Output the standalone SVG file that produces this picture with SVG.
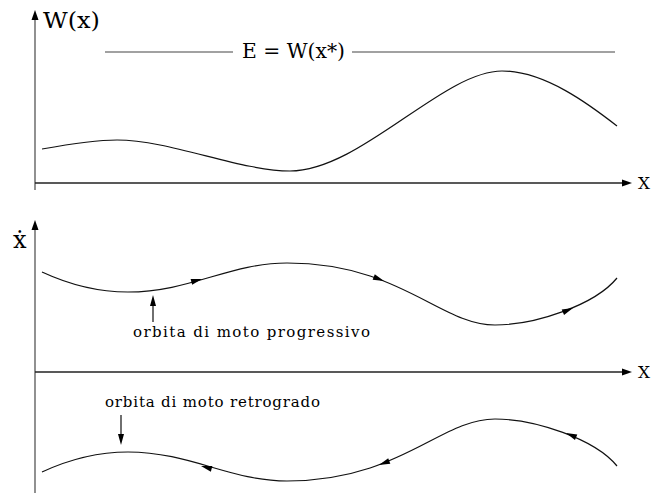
<svg xmlns="http://www.w3.org/2000/svg" width="652" height="493" viewBox="0 0 652 493">
<style>
.ax{stroke:#222;stroke-width:1.3;fill:none}
.vx{stroke:#555;stroke-width:1.3;fill:none}
.cv{stroke:#111;stroke-width:1.2;fill:none}
.el{stroke:#444;stroke-width:1.2;fill:none}
text{font-family:"DejaVu Serif","Liberation Serif",serif;fill:#000}
.s{font-size:15px}
</style>
<defs>
<path id="ah" d="M0,0 L-10,-3.5 L-10,3.5 Z" fill="#000"/>
<path id="sh" d="M0,0 L-11,-3 L-11,3 Z" fill="#000"/>
</defs>
<g id="axes">
<line class="vx" x1="35" y1="14" x2="35" y2="190"/>
<use href="#ah" transform="translate(35,10) rotate(-90)"/>
<line class="ax" x1="35" y1="183" x2="626" y2="183"/>
<use href="#ah" transform="translate(632,183)"/>
<line class="vx" x1="35" y1="224" x2="35" y2="493"/>
<use href="#ah" transform="translate(35,220) rotate(-90)"/>
<line class="ax" x1="35" y1="372" x2="626" y2="372"/>
<use href="#ah" transform="translate(632,372)"/>
</g>
<g id="labels">
<text x="43" y="28" font-size="22" textLength="57" lengthAdjust="spacingAndGlyphs">W(x)</text>
<text x="242" y="58" font-size="21" textLength="103" lengthAdjust="spacingAndGlyphs">E = W(x*)</text>
<text x="638" y="189" font-size="16" textLength="12" lengthAdjust="spacingAndGlyphs">X</text>
<text x="638" y="378" font-size="16" textLength="12" lengthAdjust="spacingAndGlyphs">X</text>
<text x="13" y="248" font-size="24">ẋ</text>
</g>
<g id="energy">
<line class="el" x1="105" y1="52" x2="233" y2="52"/>
<line class="el" x1="352" y1="52" x2="615" y2="52"/>
</g>
<g id="potential">
<path class="cv" d="M42,149 C70,144 95,140 117,140 C170,140 240,171 290,171 C360,171 443,71 502,71 C545,71 590,105 617,126"/>
</g>
<g id="orbit-progressive">
<path class="cv" d="M42,272 C70,285 100,292 128,292 C190,292 230,263 287,263 C400,263 440,325 495,325 C535,325 595,305 617,278"/>
<use href="#sh" transform="translate(202,279) rotate(-15)"/>
<use href="#sh" transform="translate(384,281) rotate(21)"/>
<use href="#sh" transform="translate(573,308) rotate(-23)"/>
</g>
<g id="orbit-retrograde">
<path class="cv" d="M42,472 C70,459 100,452 128,452 C190,452 230,481 287,481 C400,481 440,419 495,419 C535,419 595,439 617,466"/>
<use href="#sh" transform="translate(201,466) rotate(195)"/>
<use href="#sh" transform="translate(379,465) rotate(159)"/>
<use href="#sh" transform="translate(566,433) rotate(203)"/>
</g>
<g id="label-progressive">
<line class="ax" x1="153" y1="322" x2="153" y2="302"/>
<use href="#sh" transform="translate(153,295) rotate(-90)"/>
<text class="s" x="133" y="337" textLength="237" lengthAdjust="spacing">orbita di moto progressivo</text>
</g>
<g id="label-retrograde">
<line class="ax" x1="121" y1="415" x2="121" y2="438"/>
<use href="#sh" transform="translate(121,445) rotate(90)"/>
<text class="s" x="105" y="407" textLength="215" lengthAdjust="spacing">orbita di moto retrogrado</text>
</g>
</svg>
